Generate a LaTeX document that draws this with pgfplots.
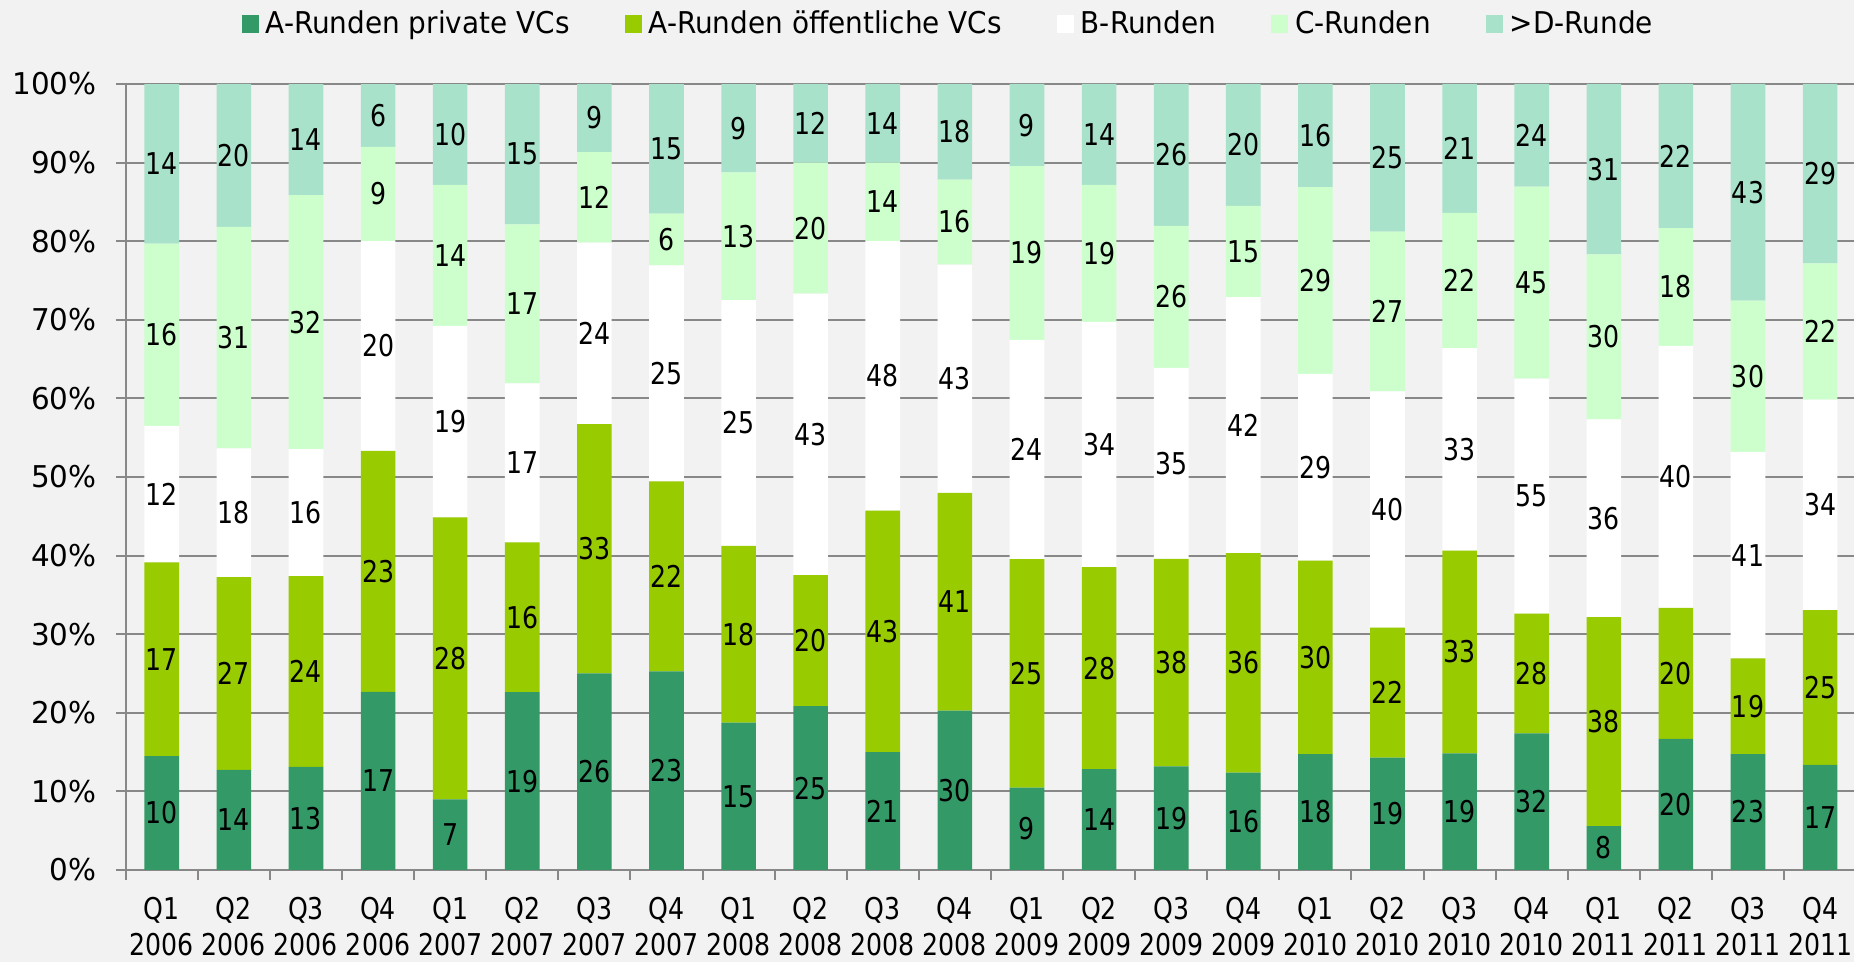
\documentclass[border=0pt]{standalone}
\usepackage{fontspec}
\setmainfont{DejaVu Sans}[FakeStretch=0.93]
\newfontfamily\numfont{DejaVu Sans}[FakeStretch=0.84]
\newfontfamily\yfont{DejaVu Sans}[FakeStretch=0.98]
\usepackage{pgfplots}
\usepackage{pgfplotstable}
\pgfplotsset{compat=1.18}
\usetikzlibrary{backgrounds}

\definecolor{apriv}{HTML}{339966}
\definecolor{aoeff}{HTML}{99CC00}
\definecolor{brun}{HTML}{FFFFFF}
\definecolor{crun}{HTML}{CCFFCC}
\definecolor{drun}{HTML}{A9E2CA}
\definecolor{bgc}{HTML}{F2F2F2}
\definecolor{axc}{HTML}{888888}

% Anzahl Finanzierungsrunden je Quartal
\pgfplotstableread{
idx ap ao b c d
0 10 17 12 16 14
1 14 27 18 31 20
2 13 24 16 32 14
3 17 23 20 9 6
4 7 28 19 14 10
5 19 16 17 17 15
6 26 33 24 12 9
7 23 22 25 6 15
8 15 18 25 13 9
9 25 20 43 20 12
10 21 43 48 14 14
11 30 41 43 16 18
12 9 25 24 19 9
13 14 28 34 19 14
14 19 38 35 26 26
15 16 36 42 15 20
16 18 30 29 29 16
17 19 22 40 27 25
18 19 33 33 22 21
19 32 28 55 45 24
20 8 38 36 30 31
21 20 20 40 18 22
22 23 19 41 30 43
23 17 25 34 22 29
}\data
\pgfplotstablecreatecol[create col/expr={\thisrow{ap}+\thisrow{ao}+\thisrow{b}+\thisrow{c}+\thisrow{d}}]{tot}{\data}

\pgfplotsset{
  frame/.style={scale only axis, width=864.15pt, height=393pt,
    xmin=-0.5, xmax=23.47, ymin=0, ymax=100},
}

\begin{document}
\begin{tikzpicture}[font=\fontsize{15pt}{18.3pt}\selectfont]
\begin{axis}[
  frame,
  ybar stacked, bar width=0.48,
  axis lines*=left,
  axis line style={draw=axc, line width=1pt},
  tick align=outside, major tick length=5pt, minor tick length=5pt,
  xtick={0,...,23},
  xticklabels={Q1\\2006,Q2\\2006,Q3\\2006,Q4\\2006,Q1\\2007,Q2\\2007,Q3\\2007,Q4\\2007,
    Q1\\2008,Q2\\2008,Q3\\2008,Q4\\2008,Q1\\2009,Q2\\2009,Q3\\2009,Q4\\2009,
    Q1\\2010,Q2\\2010,Q3\\2010,Q4\\2010,Q1\\2011,Q2\\2011,Q3\\2011,Q4\\2011},
  major x tick style={draw=none},
  minor xtick={-0.5,0.5,...,22.5},
  minor x tick style={draw=axc, line width=1pt},
  ytick={0,10,...,100},
  y tick style={draw=axc, line width=1pt},
  ymajorgrids, major grid style={draw=axc, line width=1pt},
  yticklabel={\pgfmathprintnumber{\tick}\%},
  /pgf/number format/assume math mode=true,
  xticklabel style={align=center, yshift=-5pt, font=\numfont\fontsize{15pt}{18.3pt}\selectfont},
  yticklabel style={xshift=-6pt, font=\yfont\fontsize{15pt}{18.3pt}\selectfont},
  legend columns=-1,
  legend image code/.code={\fill[#1] (0pt,-4.5pt) rectangle (8.5pt,4.5pt);},
  legend style={draw=none, fill=none, at={(0.4765,1.0763)}, anchor=center,
    /tikz/every odd column/.append style={column sep=1.5pt},
    /tikz/every even column/.append style={column sep=25.5pt}},
]
\addplot[fill=apriv, draw=none] table[x=idx, y expr=100*\thisrow{ap}/\thisrow{tot}]{\data};
\addplot[fill=aoeff, draw=none] table[x=idx, y expr=100*\thisrow{ao}/\thisrow{tot}]{\data};
\addplot[fill=brun, draw=none] table[x=idx, y expr=100*\thisrow{b}/\thisrow{tot}]{\data};
\addplot[fill=crun, draw=none] table[x=idx, y expr=100*\thisrow{c}/\thisrow{tot}]{\data};
\addplot[fill=drun, draw=none] table[x=idx, y expr=100*\thisrow{d}/\thisrow{tot}]{\data};
\legend{A-Runden private VCs, A-Runden öffentliche VCs, B-Runden, C-Runden, >D-Runde}
\coordinate (ll) at (rel axis cs:0,0);
\coordinate (ur) at (rel axis cs:1,1);
\end{axis}
% Werte mittig in den Segmenten
\begin{axis}[
  frame, hide axis,
  point meta=explicit,
  /pgf/number format/assume math mode=true,
  nodes near coords={\pgfmathprintnumber{\pgfplotspointmeta}},
  nodes near coords style={anchor=center, inner sep=0pt, text=black,
    font=\numfont\fontsize{15pt}{18.3pt}\selectfont},
]
\addplot[only marks, mark=none] table[x=idx, y expr=100*(0.5*\thisrow{ap})/\thisrow{tot}, meta=ap]{\data};
\addplot[only marks, mark=none] table[x=idx, y expr=100*(\thisrow{ap}+0.5*\thisrow{ao})/\thisrow{tot}, meta=ao]{\data};
\addplot[only marks, mark=none] table[x=idx, y expr=100*(\thisrow{ap}+\thisrow{ao}+0.5*\thisrow{b})/\thisrow{tot}, meta=b]{\data};
\addplot[only marks, mark=none] table[x=idx, y expr=100*(\thisrow{ap}+\thisrow{ao}+\thisrow{b}+0.5*\thisrow{c})/\thisrow{tot}, meta=c]{\data};
\addplot[only marks, mark=none] table[x=idx, y expr=100*(\thisrow{tot}-0.5*\thisrow{d})/\thisrow{tot}, meta=d]{\data};
\end{axis}
\pgfresetboundingbox
\path[use as bounding box] ([shift={(-62.85pt,-46pt)}]ll) rectangle ([shift={(0pt,42pt)}]ur);
\begin{scope}[on background layer]
\fill[bgc] ([shift={(-62.85pt,-46pt)}]ll) rectangle ([shift={(0pt,42pt)}]ur);
\end{scope}
\end{tikzpicture}
\end{document}
